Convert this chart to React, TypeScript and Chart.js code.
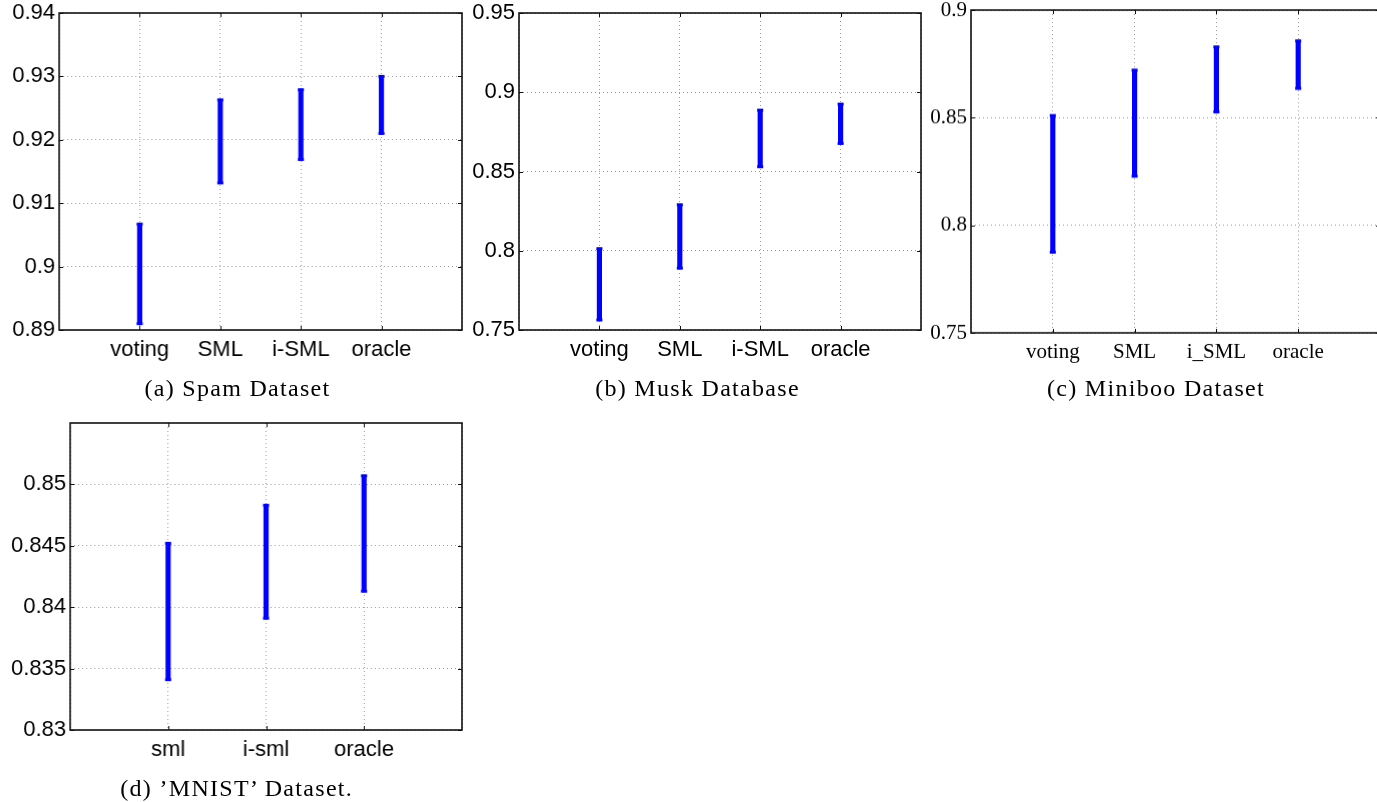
import React, { useEffect, useRef } from 'react';
import { Chart, registerables } from 'chart.js';
Chart.register(...registerables);

// ---------- data ----------
const spamLabels = ['voting', 'SML', 'i-SML', 'oracle'];
const spamLow = [0.891, 0.9132, 0.9169, 0.921];
const spamHigh = [0.9067, 0.9263, 0.9279, 0.93];
const spamTicks = [0.89, 0.9, 0.91, 0.92, 0.93, 0.94];

const muskLabels = ['voting', 'SML', 'i-SML', 'oracle'];
const muskLow = [0.7563, 0.789, 0.853, 0.8677];
const muskHigh = [0.8013, 0.829, 0.8887, 0.8925];
const muskTicks = [0.75, 0.8, 0.85, 0.9, 0.95];

const minibooLabels = ['voting', 'SML', 'i_SML', 'oracle'];
const minibooLow = [0.7875, 0.8228, 0.8527, 0.8636];
const minibooHigh = [0.851, 0.8721, 0.8829, 0.8857];
const minibooTicks = [0.75, 0.8, 0.85, 0.9];

const mnistLabels = ['sml', 'i-sml', 'oracle'];
const mnistLow = [0.8341, 0.8391, 0.8413];
const mnistHigh = [0.8452, 0.8483, 0.8507];
const mnistTicks = [0.83, 0.835, 0.84, 0.845, 0.85];

const captions = ['(a) Spam Dataset', '(b) Musk Database', '(c) Miniboo Dataset', "(d) \u2019MNIST\u2019 Dataset."];

// ---------- layout ----------
const Y_W = 70;
const X_H = 50;
const PAD_T = 20;
const PAD_R = 20;
const BLUE = '#0000ff';

type PanelProps = {
  area: { l: number; t: number; r: number; b: number };
  labels: string[];
  low: number[];
  high: number[];
  ticks: number[];
  yMax: number;
  step: number;
  family: string;
  size: number;
};

const boxPlugin = {
  id: 'matlabBox',
  afterDraw(chart: any) {
    const { ctx, chartArea: a, scales } = chart;
    ctx.save();
    ctx.strokeStyle = '#111';
    ctx.lineWidth = 1;
    const ys = scales.y;
    const xs = scales.x;
    const tl = 4;
    ctx.beginPath();
    ys.ticks.forEach((t: any) => {
      const py = Math.round(ys.getPixelForValue(t.value)) + 0.5;
      ctx.moveTo(a.left, py);
      ctx.lineTo(a.left + tl, py);
      ctx.moveTo(a.right, py);
      ctx.lineTo(a.right - tl, py);
    });
    const labs = chart.data.labels as string[];
    labs.forEach((lab: string, i: number) => {
      if (!lab) return;
      const px = Math.round(xs.getPixelForValue(i)) + 0.5;
      ctx.moveTo(px, a.bottom);
      ctx.lineTo(px, a.bottom - tl);
      ctx.moveTo(px, a.top);
      ctx.lineTo(px, a.top + tl);
    });
    ctx.stroke();
    ctx.lineWidth = 1.6;
    ctx.strokeStyle = '#111';
    ctx.strokeRect(a.left, a.top, a.right - a.left, a.bottom - a.top);
    ctx.restore();
  },
};

function fmt(v: number) {
  return String(Number(v.toFixed(4)));
}

function Panel(p: PanelProps) {
  const ref = useRef<HTMLCanvasElement>(null);
  const w = p.area.r - p.area.l + Y_W + PAD_R;
  const h = p.area.b - p.area.t + PAD_T + X_H;
  useEffect(() => {
    if (!ref.current) return;
    const labels = ['', ...p.labels, ''];
    const bars = [null, ...p.low.map((lo, i) => [lo, p.high[i]]), null];
    const lows = [null, ...p.low, null];
    const highs = [null, ...p.high, null];
    const font = { family: p.family, size: p.size, lineHeight: 1.2 };
    const chart = new Chart(ref.current, {
      type: 'bar',
      data: {
        labels,
        datasets: [
          {
            type: 'bar',
            data: bars as any,
            backgroundColor: BLUE,
            borderWidth: 0,
            barThickness: 4.5,
            borderSkipped: false,
          },
          {
            type: 'line',
            data: lows as any,
            showLine: false,
            pointStyle: 'line',
            pointRadius: 3,
            pointBorderWidth: 3,
            pointBorderColor: BLUE,
            borderColor: BLUE,
            pointHoverRadius: 3,
          },
          {
            type: 'line',
            data: highs as any,
            showLine: false,
            pointStyle: 'line',
            pointRadius: 3,
            pointBorderWidth: 3,
            pointBorderColor: BLUE,
            borderColor: BLUE,
            pointHoverRadius: 3,
          },
        ],
      },
      options: {
        animation: false,
        responsive: false,
        devicePixelRatio: 1,
        events: [],
        layout: { padding: { top: PAD_T, right: PAD_R, left: 0, bottom: 0 } },
        plugins: { legend: { display: false }, tooltip: { enabled: false }, title: { display: false } },
        scales: {
          x: {
            type: 'category',
            offset: false,
            grid: { offset: false, color: 'rgba(0,0,0,0.4)', lineWidth: 1, drawTicks: false },
            border: { display: false, dash: [1, 3] },
            ticks: { autoSkip: false, maxRotation: 0, minRotation: 0, padding: 7, color: '#000', font },
            afterFit: (s: any) => {
              s.height = X_H;
            },
          },
          y: {
            type: 'linear',
            min: p.ticks[0],
            max: p.yMax,
            grid: { color: 'rgba(0,0,0,0.4)', lineWidth: 1, drawTicks: false },
            border: { display: false, dash: [1, 3] },
            afterBuildTicks: (s: any) => {
              s.ticks = p.ticks.map((v) => ({ value: v }));
            },
            ticks: {
              padding: 4,
              color: '#000',
              font,
              callback: (v: any) => fmt(Number(v)),
            },
            afterFit: (s: any) => {
              s.width = Y_W;
            },
          },
        },
      },
      plugins: [boxPlugin],
    } as any);
    return () => chart.destroy();
  }, []);
  return (
    <canvas
      ref={ref}
      width={w}
      height={h}
      style={{ position: 'absolute', left: p.area.l - Y_W, top: p.area.t - PAD_T, width: w, height: h }}
    />
  );
}

const capStyle = (cx: number, top: number): React.CSSProperties => ({
  position: 'absolute',
  left: cx,
  top,
  transform: 'translateX(-50%)',
  whiteSpace: 'nowrap',
  fontFamily: '"Liberation Serif", serif',
  fontSize: 24,
  lineHeight: '24px',
  letterSpacing: 1.3,
  color: '#000',
});

export default function App() {
  return (
    <div
      style={{
        position: 'absolute',
        left: 0,
        top: 0,
        width: 1377,
        height: 802,
        overflow: 'hidden',
        background: '#fff',
      }}
    >
      <Panel area={{ l: 59, t: 12.7, r: 461.5, b: 330 }} labels={spamLabels} low={spamLow} high={spamHigh}
        ticks={spamTicks} yMax={0.94} step={0.01} family='"Liberation Sans", Arial, sans-serif' size={22} />
      <Panel area={{ l: 518.5, t: 12.7, r: 921, b: 330 }} labels={muskLabels} low={muskLow} high={muskHigh}
        ticks={muskTicks} yMax={0.95} step={0.05} family='"Liberation Sans", Arial, sans-serif' size={22} />
      <Panel area={{ l: 971, t: 10, r: 1380, b: 332.7 }} labels={minibooLabels} low={minibooLow} high={minibooHigh}
        ticks={minibooTicks} yMax={0.9} step={0.05} family='"Liberation Serif", serif' size={21} />
      <Panel area={{ l: 70, t: 422.7, r: 461.7, b: 730.5 }} labels={mnistLabels} low={mnistLow} high={mnistHigh}
        ticks={mnistTicks} yMax={0.855} step={0.005} family='"Liberation Sans", Arial, sans-serif' size={22} />
      <div style={capStyle(237.5, 376)}>{captions[0]}</div>
      <div style={capStyle(697.5, 376)}>{captions[1]}</div>
      <div style={capStyle(1156, 376)}>{captions[2]}</div>
      <div style={capStyle(236.7, 776)}>{captions[3]}</div>
    </div>
  );
}
